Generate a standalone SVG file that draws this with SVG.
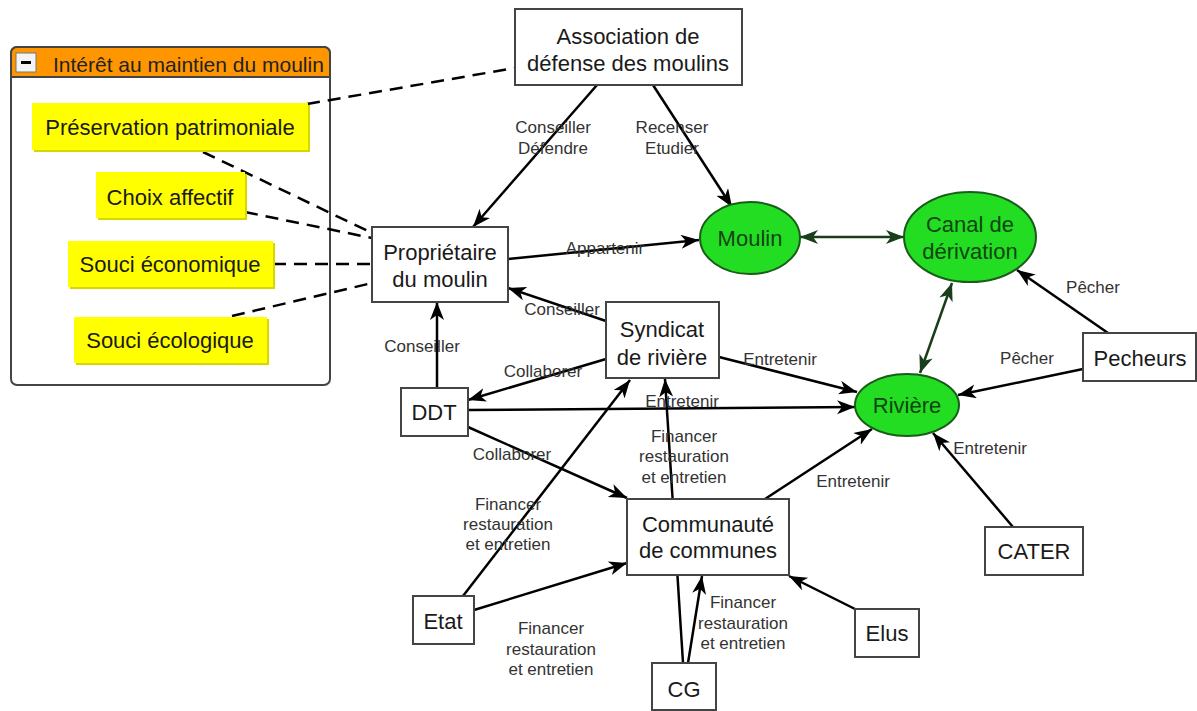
<svg xmlns="http://www.w3.org/2000/svg" width="1197" height="711" viewBox="0 0 1197 711">
<style>
.box{fill:#fff;stroke:#444;stroke-width:2}
.yel{fill:#ffff00}
.ysh{fill:#d6d600}
.ell{fill:#22dd22;stroke:#1a5c1a;stroke-width:2}
.nt{font-family:"Liberation Sans",Arial,sans-serif;font-size:22px;fill:#1a1a1a;text-anchor:middle}
.gt{font-family:"Liberation Sans",Arial,sans-serif;font-size:22px;fill:#124512;text-anchor:middle}
.lb{font-family:"Liberation Sans",Arial,sans-serif;font-size:17px;fill:#333;text-anchor:middle}
.ht{font-family:"Liberation Sans",Arial,sans-serif;font-size:21px;fill:#222}
.ln{stroke:#000;stroke-width:2.5;fill:none;marker-end:url(#ah)}
.gl{stroke:#1a3d1a;stroke-width:2.5;fill:none;marker-end:url(#gh);marker-start:url(#gh)}
.ds{stroke:#000;stroke-width:2.5;fill:none;stroke-dasharray:13 8}
</style>
<defs>
<marker id="ah" markerUnits="userSpaceOnUse" markerWidth="20" markerHeight="16" refX="18" refY="7" orient="auto">
<path d="M0,0 L18,7 L0,14 L5,7 z" fill="#000"/>
</marker>
<marker id="gh" markerUnits="userSpaceOnUse" markerWidth="20" markerHeight="16" refX="18" refY="7" orient="auto-start-reverse">
<path d="M0,0 L18,7 L0,14 L5,7 z" fill="#1a3d1a"/>
</marker>
</defs>
<rect width="1197" height="711" fill="#fff"/>

<g id="panel">
<rect x="11" y="47" width="319" height="338" rx="6" fill="#fff" stroke="#444" stroke-width="2"/>
<path d="M11,77 V53 a6,6 0 0 1 6,-6 H324 a6,6 0 0 1 6,6 V77 Z" fill="#ff9600" stroke="#444" stroke-width="2"/>
<rect x="16" y="53" width="20" height="19" fill="#f4f4f4" stroke="#777" stroke-width="1"/>
<rect x="21" y="61" width="10" height="3" fill="#000"/>
<text class="ht" x="53" y="72">Intérêt au maintien du moulin</text>
</g>

<g id="connectors">
<line class="ds" x1="307" y1="104" x2="515" y2="68"/>
<line class="ds" x1="203" y1="152" x2="372" y2="233"/>
<line class="ds" x1="245" y1="212" x2="372" y2="238"/>
<line class="ds" x1="273" y1="264" x2="372" y2="264"/>
<line class="ds" x1="232" y1="316" x2="372" y2="283"/>

<line class="ln" x1="597" y1="85" x2="473" y2="227"/>
<line class="ln" x1="653" y1="85" x2="732" y2="207"/>
<line class="ln" x1="508" y1="259" x2="699" y2="240"/>
<line class="gl" x1="800" y1="237" x2="904" y2="237"/>
<line class="gl" x1="952" y1="283" x2="920" y2="373"/>
<line class="ln" x1="1108" y1="333" x2="1017" y2="270"/>
<line class="ln" x1="1083" y1="369" x2="958" y2="395"/>
<line class="ln" x1="719" y1="357" x2="857" y2="392"/>
<line class="ln" x1="468" y1="410" x2="855" y2="407"/>
<line class="ln" x1="606" y1="321" x2="508" y2="288"/>
<line class="ln" x1="437" y1="388" x2="437" y2="302"/>
<line class="ln" x1="606" y1="359" x2="468" y2="400"/>
<line class="ln" x1="468" y1="427" x2="627" y2="498"/>
<line class="ln" x1="463" y1="596" x2="630" y2="380"/>
<line class="ln" x1="474" y1="610" x2="627" y2="563"/>
<line class="ln" x1="683" y1="663" x2="665" y2="379"/>
<line class="ln" x1="688" y1="663" x2="702" y2="576"/>
<line class="ln" x1="855" y1="609" x2="789" y2="576"/>
<line class="ln" x1="765" y1="499" x2="872" y2="429"/>
<line class="ln" x1="1013" y1="527" x2="933" y2="433"/>

<text class="lb" x="553" y="133">Conseiller</text>
<text class="lb" x="553" y="154">Défendre</text>
<text class="lb" x="672" y="133">Recenser</text>
<text class="lb" x="672" y="154">Etudier</text>
<text class="lb" x="605" y="254">Appartenir</text>
<text class="lb" x="562" y="315">Conseiller</text>
<text class="lb" x="422" y="352">Conseiller</text>
<text class="lb" x="543" y="377">Collaborer</text>
<text class="lb" x="682" y="407">Entretenir</text>
<text class="lb" x="780" y="365">Entretenir</text>
<text class="lb" x="1093" y="293">Pêcher</text>
<text class="lb" x="1027" y="364">Pêcher</text>
<text class="lb" x="990" y="454">Entretenir</text>
<text class="lb" x="853" y="487">Entretenir</text>
<text class="lb" x="512" y="460">Collaborer</text>
<text class="lb" x="508" y="510">Financer</text>
<text class="lb" x="508" y="530">restauration</text>
<text class="lb" x="508" y="550">et entretien</text>
<text class="lb" x="551" y="634">Financer</text>
<text class="lb" x="551" y="655">restauration</text>
<text class="lb" x="551" y="675">et entretien</text>
<text class="lb" x="684" y="442">Financer</text>
<text class="lb" x="684" y="462">restauration</text>
<text class="lb" x="684" y="483">et entretien</text>
<text class="lb" x="743" y="608">Financer</text>
<text class="lb" x="743" y="629">restauration</text>
<text class="lb" x="743" y="649">et entretien</text>
</g>

<g id="n-preservation">
<rect class="ysh" x="34" y="105" width="276" height="47"/>
<rect class="yel" x="32" y="103" width="276" height="47"/>
<text class="nt" x="170" y="135">Préservation patrimoniale</text>
</g>
<g id="n-choix">
<rect class="ysh" x="98" y="174" width="149" height="46"/>
<rect class="yel" x="96" y="172" width="149" height="46"/>
<text class="nt" x="170" y="205">Choix affectif</text>
</g>
<g id="n-economique">
<rect class="ysh" x="70" y="243" width="205" height="46"/>
<rect class="yel" x="68" y="241" width="205" height="46"/>
<text class="nt" x="170" y="272">Souci économique</text>
</g>
<g id="n-ecologique">
<rect class="ysh" x="76" y="319" width="193" height="46"/>
<rect class="yel" x="74" y="317" width="193" height="46"/>
<text class="nt" x="170" y="348">Souci écologique</text>
</g>

<g id="n-association">
<rect class="box" x="515" y="9" width="227" height="76"/>
<text class="nt" x="628" y="44">Association de</text>
<text class="nt" x="628" y="71">défense des moulins</text>
</g>
<g id="n-proprietaire">
<rect class="box" x="372" y="227" width="136" height="75"/>
<text class="nt" x="440" y="260">Propriétaire</text>
<text class="nt" x="440" y="287">du moulin</text>
</g>
<g id="n-syndicat">
<rect class="box" x="606" y="302" width="113" height="76"/>
<text class="nt" x="662" y="337">Syndicat</text>
<text class="nt" x="662" y="365">de rivière</text>
</g>
<g id="n-ddt">
<rect class="box" x="401" y="388" width="67" height="48"/>
<text class="nt" x="434" y="420">DDT</text>
</g>
<g id="n-communaute">
<rect class="box" x="627" y="499" width="162" height="76"/>
<text class="nt" x="708" y="532">Communauté</text>
<text class="nt" x="708" y="558">de communes</text>
</g>
<g id="n-etat">
<rect class="box" x="413" y="596" width="61" height="48"/>
<text class="nt" x="443" y="629">Etat</text>
</g>
<g id="n-cg">
<rect class="box" x="652" y="663" width="64" height="47"/>
<text class="nt" x="684" y="697">CG</text>
</g>
<g id="n-elus">
<rect class="box" x="855" y="609" width="64" height="48"/>
<text class="nt" x="887" y="641">Elus</text>
</g>
<g id="n-cater">
<rect class="box" x="985" y="527" width="98" height="48"/>
<text class="nt" x="1034" y="559">CATER</text>
</g>
<g id="n-pecheurs">
<rect class="box" x="1083" y="333" width="113" height="48"/>
<text class="nt" x="1140" y="366">Pecheurs</text>
</g>
<g id="n-moulin">
<ellipse class="ell" cx="750" cy="238" rx="50" ry="36"/>
<text class="gt" x="750" y="246">Moulin</text>
</g>
<g id="n-canal">
<ellipse class="ell" cx="970" cy="237" rx="66" ry="45"/>
<text class="gt" x="970" y="232">Canal de</text>
<text class="gt" x="970" y="259">dérivation</text>
</g>
<g id="n-riviere">
<ellipse class="ell" cx="907" cy="405" rx="52" ry="31"/>
<text class="gt" x="907" y="413">Rivière</text>
</g>
</svg>
